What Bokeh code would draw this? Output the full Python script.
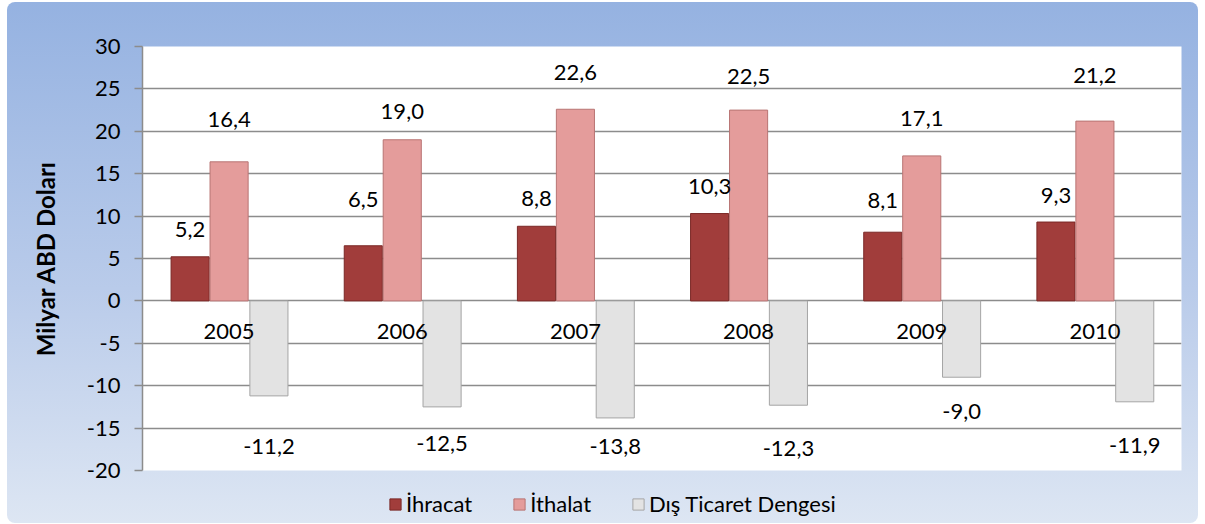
from bokeh.plotting import figure
from bokeh.layouts import column
from bokeh.models import ColumnDataSource, Range1d, FactorRange, Legend, LegendItem, FixedTicker
from bokeh.transform import dodge
from bokeh.core.properties import value
from bokeh.embed import file_html
from bokeh.resources import INLINE

years = ["2005", "2006", "2007", "2008", "2009", "2010"]
ihracat = [5.2, 6.5, 8.8, 10.3, 8.1, 9.3]
ithalat = [16.4, 19.0, 22.6, 22.5, 17.1, 21.2]
denge = [-11.2, -12.5, -13.8, -12.3, -9.0, -11.9]
y_ticks = [-20, -15, -10, -5, 0, 5, 10, 15, 20, 25, 30]
series_names = ["İhracat", "İthalat", "Dış Ticaret Dengesi"]

# manual label placement (pixel offsets, as in the original chart)
ihr_dy = [-27, -46, -28, -27, -32, -27]
ith_dy = [-42, -28, -37, -34, -37, -46]
den_dy = [51, 37, 29, 43, 34, 44]

COLORS = [("#a13d3b", "#7a2826"), ("#e49c9b", "#b87473"), ("#e3e3e3", "#a5a5a5")]
FONT = "Lato"


def fmt(v):
    return f"{v:.1f}".replace(".", ",")


src = ColumnDataSource(dict(
    year=years,
    ihr=ihracat, ith=ithalat, den=denge,
    ihr_t=[fmt(v) for v in ihracat],
    ith_t=[fmt(v) for v in ithalat],
    den_t=[fmt(v) for v in denge],
    ihr_dy=ihr_dy, ith_dy=ith_dy, den_dy=den_dy,
    zero=[0] * len(years),
))

p = figure(
    width=1191, height=480,
    x_range=FactorRange(*years), y_range=Range1d(-20, 30),
    output_backend="svg", toolbar_location=None,
    min_border_left=135, min_border_right=17, min_border_top=44, min_border_bottom=12,
)
p.border_fill_color = None
p.background_fill_color = "white"
p.outline_line_color = None

W = 0.22
offs = [-0.225, 0.0, 0.23]
cols = ["ihr", "ith", "den"]
for off, c, (fc, lc) in zip(offs, cols, COLORS):
    p.vbar(x=dodge("year", off, range=p.x_range), top=c, width=W, source=src,
           fill_color=fc, line_color=lc, line_width=1)

common = dict(source=src, text_font=value(FONT), text_font_size="22px",
              text_color="black", text_align="center", text_baseline="middle")
for off, c in zip(offs, cols):
    p.text(x=dodge("year", off, range=p.x_range), y=c, text=c + "_t", y_offset=c + "_dy", **common)
p.text(x="year", y="zero", text="year", y_offset=31, **common)

p.xaxis.visible = False
p.xgrid.visible = False

yax = p.yaxis[0]
yax.ticker = FixedTicker(ticks=y_ticks)
yax.major_label_overrides = {t: str(t) for t in y_ticks}
yax.axis_line_color = "#8c8c8c"
yax.axis_line_width = 1.5
yax.major_tick_line_color = "#8c8c8c"
yax.major_tick_line_width = 1.5
yax.major_tick_out = 8
yax.major_tick_in = 0
yax.minor_tick_line_color = None
yax.major_label_text_font = FONT
yax.major_label_text_font_size = "22px"
yax.major_label_text_color = "black"
yax.major_label_standoff = 14
yax.axis_label = "Milyar ABD Doları"
yax.axis_label_text_font = FONT
yax.axis_label_text_font_size = "24px"
yax.axis_label_text_font_style = "bold"
yax.axis_label_text_color = "black"
yax.axis_label_standoff = 24

p.ygrid.ticker = FixedTicker(ticks=y_ticks)
p.ygrid.grid_line_color = "#8c8c8c"
p.ygrid.grid_line_width = 1.5

# legend strip (its swatches share the styling of the bar renderers)
lf = figure(width=1191, height=41, x_range=Range1d(0, 1), y_range=Range1d(0, 1),
            output_backend="svg", toolbar_location=None,
            min_border_left=0, min_border_right=0, min_border_top=0, min_border_bottom=0)
lf.axis.visible = False
lf.grid.visible = False
lf.border_fill_color = None
lf.background_fill_color = None
lf.outline_line_color = None
items = []
for name, (fc, lc) in zip(series_names, COLORS):
    # swatch-only renderer, its single point lies outside the visible range
    r = lf.vbar(x=[-10], top=[-10], width=0.1, fill_color=fc, line_color=lc, line_width=1)
    items.append(LegendItem(label=name, renderers=[r]))
legend = Legend(items=items, orientation="horizontal", location=(246, 6))
legend.label_text_font = FONT
legend.label_text_font_size = "22px"
legend.label_text_color = "black"
legend.glyph_width = 14
legend.glyph_height = 14
legend.label_standoff = 4
legend.spacing = 40
legend.background_fill_alpha = 0
legend.border_line_color = None
legend.padding = 2
legend.margin = 0
lf.add_layout(legend, "center")

layout = column(p, lf, spacing=0)
layout.styles = {"background": "linear-gradient(to bottom, #95b2e1 0%, #b9cbea 55%, #dde6f3 100%)",
                 "border-radius": "8px", "margin-left": "7px", "margin-top": "2px",
                 "width": "1191px", "height": "521px"}

open("out.html", "w").write(file_html(layout, INLINE))
